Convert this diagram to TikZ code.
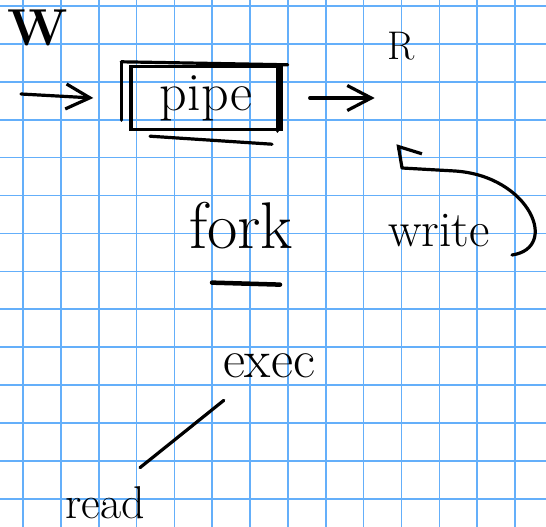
\documentclass[tikz,border=0pt]{standalone}
\usepackage{tikz}
\usetikzlibrary{positioning, arrows.meta}
\definecolor{gridblue}{RGB}{100,175,250}

\begin{document}
\begin{tikzpicture}[
x=1pt, y=-1pt,
every node/.style={align=center, inner sep=0pt},
hand/.style={font=\fontsize{#1pt}{#1pt}\selectfont},
ink/.style={line width=3.2pt, line cap=round, line join=round},
gridline/.style={gridblue, line width=1.6pt},
pipebox/.style={draw, line width=3.4pt, minimum width=150pt, minimum height=63pt},
barb/.style={ink, -{Straight Barb[length=24pt, width=25pt]}},
halfbarb/.style={ink, -{Straight Barb[right, length=11pt, width=44pt]}}
]
% grid paper
\useasboundingbox (0,0) rectangle (546,527);
\fill[white] (0,0) rectangle (546,527);
\foreach \i in {0,...,13} \draw[gridline] ({23+37.85*\i},0) -- ({23+37.85*\i},527);
\foreach \j in {0,...,13} \draw[gridline] (0,{6+37.9*\j}) -- (546,{6+37.9*\j});
% pipe
\node[pipebox, hand=54] (pipe) at (206,98) {pipe};
\draw[ink] ([xshift=-8pt,yshift=3pt]pipe.north west) -- ([xshift=-8pt,yshift=11pt]pipe.south west);
\draw[ink] ([xshift=-8pt,yshift=3pt]pipe.north west) -- ([xshift=5pt]pipe.north east);
\draw[ink] ([xshift=-5pt]pipe.north east) -- ([xshift=-5pt]pipe.south east);
\draw[ink] ([xshift=-56pt,yshift=-5pt]pipe.south) -- ([xshift=66pt,yshift=-13pt]pipe.south);
\node[hand=52] (w) at (38,28) {\bfseries W};
\node[hand=40] (r) at (401,46) {R};
\coordinate (pstart) at (21,94);
\coordinate[left=36pt of pipe.west] (pin);
\coordinate[right=27pt of pipe.east] (pout);
\coordinate[right=92pt of pipe.east] (pend);
\draw[barb] (pstart) -- (pin);
\draw[barb] (pout) -- (pend);
% fork, write
\node[hand=66] (fork) at (241,226) {fork};
\draw[ink, line width=4.5pt] ([xshift=-29pt,yshift=-33pt]fork.south) -- ([xshift=39pt,yshift=-35pt]fork.south);
\node[hand=50] (write) at (439,231) {write};
\coordinate (wloop) at (512,255);
\coordinate (rup) at (398,144);
\draw[halfbarb] (wloop) .. controls (560,248) and (530,176) .. (455,171) -- (402,168) -- (rup);
% exec, read
\node[hand=54] (exec) at (269,366) {exec};
\node[hand=46] (read) at (105,503) {read};
\draw[ink] ([xshift=1pt,yshift=-22pt]exec.south west) -- ([xshift=-5pt,yshift=19pt]read.north east);
\end{tikzpicture}
\end{document}
